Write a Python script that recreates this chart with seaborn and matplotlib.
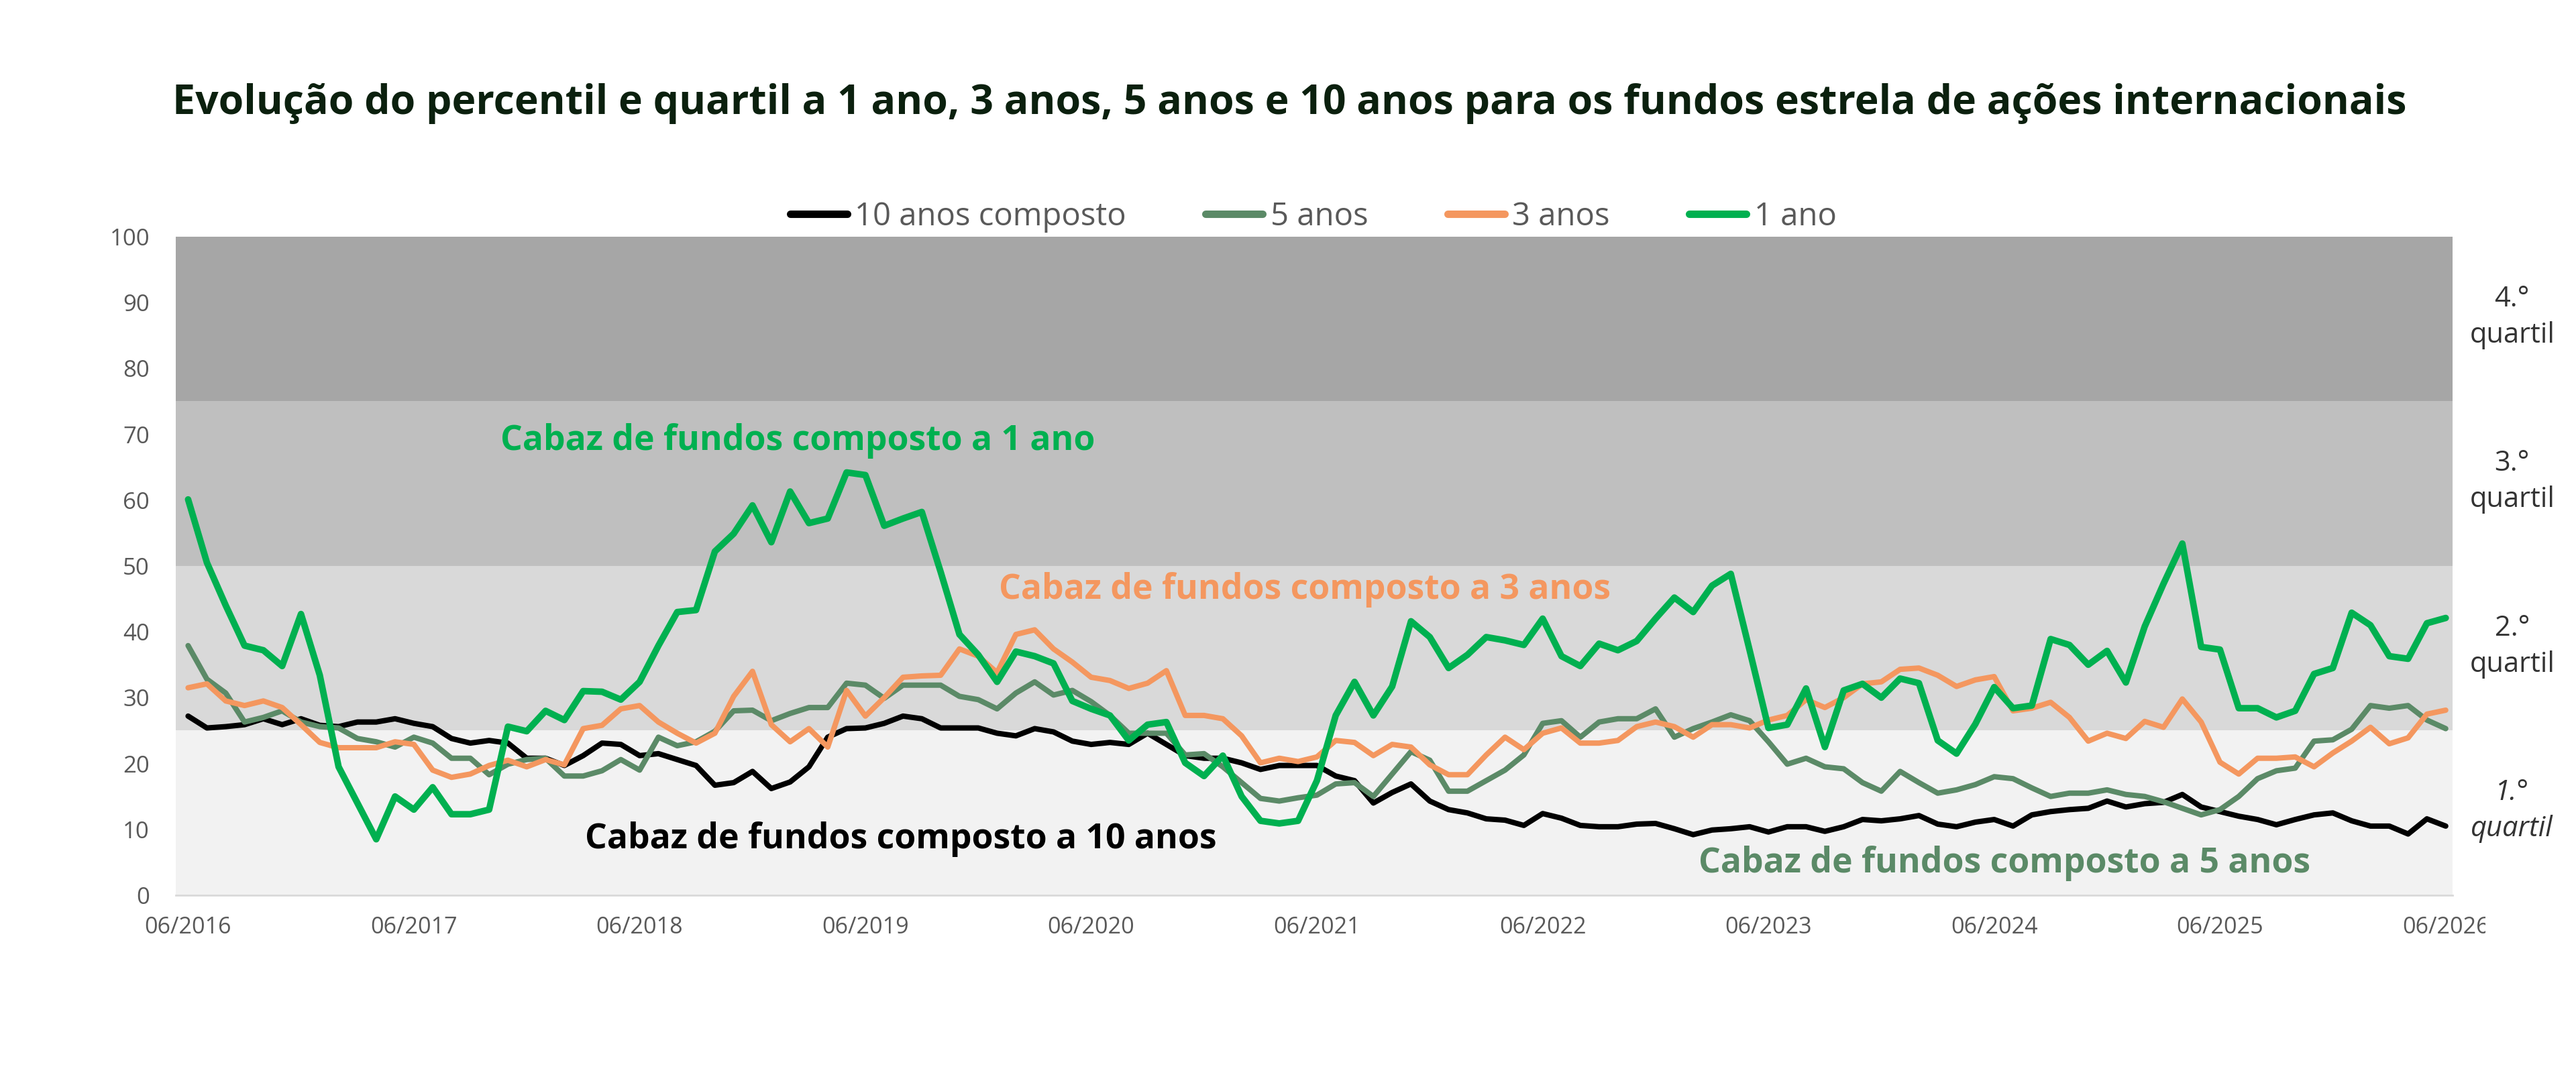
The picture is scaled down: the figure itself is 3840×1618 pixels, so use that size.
"""
Evolução do percentil e quartil dos fundos estrela de ações internacionais
"""

import pandas as pd
import matplotlib.pyplot as plt
import seaborn as sns
from matplotlib.lines import Line2D
from matplotlib.transforms import (Bbox, TransformedBbox, ScaledTranslation,
                                   blended_transform_factory)

sns.set_style("white")
plt.rcParams['font.family'] = ['Open Sans', 'DejaVu Sans']

# Dados (percentil mensal, 06/2016 -> 06/2026)
tick_labels = ['06/2016', '06/2017', '06/2018', '06/2019', '06/2020', '06/2021',
               '06/2022', '06/2023', '06/2024', '06/2025', '06/2026']

anos10 = [27.2, 25.4, 25.6, 25.9, 26.8, 25.9, 26.8, 25.8, 25.6, 26.3, 26.3, 26.8,
          26.1, 25.6, 23.8, 23.1, 23.5, 23.1, 20.8, 20.8, 19.7, 21.2, 23.1, 22.9,
          21.2, 21.5, 20.6, 19.7, 16.7, 17.1, 18.8, 16.2, 17.2, 19.5, 24.0, 25.3,
          25.4, 26.1, 27.2, 26.8, 25.4, 25.4, 25.4, 24.6, 24.2, 25.3, 24.8, 23.4,
          22.9, 23.2, 22.9, 24.6, 22.9, 21.2, 20.8, 20.8, 20.1, 19.1, 19.7, 19.7,
          19.7, 18.1, 17.4, 14.0, 15.6, 16.9, 14.3, 13.0, 12.5, 11.6, 11.4, 10.6,
          12.4, 11.7, 10.6, 10.4, 10.4, 10.8, 10.9, 10.1, 9.2, 9.9, 10.1, 10.4,
          9.6, 10.4, 10.4, 9.7, 10.4, 11.5, 11.3, 11.6, 12.1, 10.8, 10.4, 11.1,
          11.5, 10.5, 12.2, 12.7, 13.0, 13.2, 14.3, 13.4, 13.9, 14.1, 15.3, 13.4,
          12.7, 12.0, 11.5, 10.7, 11.5, 12.2, 12.5, 11.3, 10.5, 10.5, 9.3, 11.6,
          10.5]

anos5 = [37.9, 32.8, 30.7, 26.3, 27.0, 28.0, 26.3, 25.6, 25.4, 23.8, 23.3, 22.5,
         24.0, 23.1, 20.8, 20.8, 18.3, 19.9, 20.6, 20.8, 18.1, 18.1, 18.9, 20.6,
         19.0, 24.0, 22.7, 23.3, 24.9, 28.0, 28.1, 26.5, 27.6, 28.5, 28.5, 32.2,
         31.9, 29.9, 31.9, 31.9, 31.9, 30.2, 29.7, 28.3, 30.7, 32.4, 30.4, 31.1,
         29.4, 27.3, 24.6, 24.6, 24.6, 21.3, 21.5, 19.5, 17.1, 14.7, 14.3, 14.8,
         15.2, 16.9, 17.1, 15.0, 18.4, 21.8, 20.5, 15.8, 15.8, 17.4, 19.0, 21.3,
         26.1, 26.5, 24.0, 26.3, 26.8, 26.8, 28.3, 24.0, 25.3, 26.3, 27.4, 26.5,
         23.3, 19.9, 20.8, 19.5, 19.2, 17.1, 15.8, 18.8, 17.1, 15.5, 16.0, 16.8,
         18.0, 17.7, 16.3, 15.0, 15.5, 15.5, 16.0, 15.3, 15.0, 14.2, 13.2, 12.2,
         13.0, 15.0, 17.7, 18.9, 19.3, 23.4, 23.6, 25.2, 28.8, 28.4, 28.8, 26.6,
         25.3]

anos3 = [31.5, 32.1, 29.5, 28.8, 29.5, 28.5, 25.9, 23.2, 22.4, 22.4, 22.4, 23.3,
         22.9, 19.0, 17.9, 18.4, 19.7, 20.5, 19.5, 20.6, 19.8, 25.3, 25.8, 28.3,
         28.8, 26.3, 24.6, 23.1, 24.6, 30.2, 34.0, 25.9, 23.3, 25.3, 22.5, 31.1,
         27.2, 30.0, 33.1, 33.3, 33.4, 37.4, 36.3, 33.8, 39.6, 40.3, 37.4, 35.4,
         33.1, 32.6, 31.4, 32.2, 34.1, 27.3, 27.3, 26.8, 24.2, 20.1, 20.8, 20.3,
         21.0, 23.5, 23.2, 21.2, 22.9, 22.5, 19.8, 18.3, 18.3, 21.3, 24.0, 22.1,
         24.6, 25.4, 23.1, 23.1, 23.5, 25.6, 26.3, 25.6, 24.0, 25.9, 25.9, 25.4,
         26.6, 27.3, 29.7, 28.5, 30.0, 32.1, 32.4, 34.3, 34.5, 33.4, 31.7, 32.7,
         33.2, 28.0, 28.4, 29.3, 27.0, 23.4, 24.6, 23.8, 26.4, 25.5, 29.8, 26.3,
         20.2, 18.4, 20.8, 20.8, 21.0, 19.5, 21.6, 23.4, 25.5, 23.0, 23.9, 27.5,
         28.1]

ano1 = [60.1, 50.5, 44.0, 37.9, 37.2, 34.8, 42.7, 33.4, 19.5, 14.0, 8.5, 15.0,
        13.0, 16.4, 12.3, 12.3, 13.0, 25.6, 24.9, 28.0, 26.6, 31.0, 30.9, 29.7,
        32.4, 37.9, 43.0, 43.3, 52.2, 54.9, 59.2, 53.6, 61.3, 56.5, 57.2, 64.2,
        63.8, 56.1, 57.2, 58.2, 49.1, 39.6, 36.5, 32.4, 37.0, 36.3, 35.2, 29.5,
        28.3, 27.3, 23.5, 25.9, 26.3, 20.1, 18.1, 21.2, 15.0, 11.3, 10.9, 11.3,
        17.4, 27.3, 32.4, 27.3, 31.7, 41.6, 39.2, 34.5, 36.5, 39.2, 38.7, 38.0,
        42.0, 36.3, 34.8, 38.2, 37.2, 38.6, 42.0, 45.2, 43.0, 47.0, 48.8, 37.2,
        25.4, 25.9, 31.4, 22.5, 31.1, 32.1, 30.0, 32.9, 32.2, 23.5, 21.5, 26.0,
        31.6, 28.4, 28.8, 38.9, 38.0, 35.0, 37.1, 32.3, 40.8, 47.3, 53.4, 37.7,
        37.3, 28.4, 28.4, 27.0, 28.0, 33.6, 34.5, 42.9, 41.0, 36.3, 35.9, 41.3,
        42.1]

series_names = ['10 anos composto', '5 anos', '3 anos', '1 ano']
series_values = [anos10, anos5, anos3, ano1]
series_colors = ['#000000', '#5B8A67', '#F4975F', '#00B050']
series_widths = [2.9, 2.9, 2.9, 3.5]

quartile_edges = [0, 25, 50, 75, 100]
quartile_colors = ['#F2F2F2', '#D9D9D9', '#BFBFBF', '#A6A6A6']
quartile_labels = ['1.°\nquartil', '2.°\nquartil', '3.°\nquartil', '4.°\nquartil']

annotations = [
    ('Cabaz de fundos composto a 1 ano', 16.6, 69.0, '#00B050'),
    ('Cabaz de fundos composto a 3 anos', 43.1, 46.4, '#F4975F'),
    ('Cabaz de fundos composto a 10 anos', 21.1, 8.5, '#000000'),
    ('Cabaz de fundos composto a 5 anos', 80.3, 4.8, '#5B8A67'),
]

# Long table for seaborn
frames = []
for name, vals in zip(series_names, series_values):
    frames.append(pd.DataFrame({'mes': range(len(vals)), 'percentil': vals, 'serie': name}))
df = pd.concat(frames, ignore_index=True)

fig = plt.figure(figsize=(19.2, 8.09), dpi=200)
ax = fig.add_axes([0.0682, 0.1749, 0.884, 0.607])

# Quartile bands
for lo, hi, c in zip(quartile_edges[:-1], quartile_edges[1:], quartile_colors):
    ax.axhspan(lo, hi, color=c, lw=0, zorder=0)

for name, color, lw in zip(series_names, series_colors, series_widths):
    sns.lineplot(data=df[df['serie'] == name], x='mes', y='percentil', ax=ax,
                 color=color, linewidth=lw, legend=False, zorder=3,
                 solid_joinstyle='round', solid_capstyle='round')

ax.set_xlim(-0.66, 120.38)
ax.set_ylim(0, 100)
ax.set_xlabel('')
ax.set_ylabel('')

ax.set_xticks([-0.5 + 12 * k for k in range(len(tick_labels))])
ax.set_xticklabels(tick_labels)
ax.set_yticks(range(0, 101, 10))
ax.tick_params(axis='x', direction='out', length=4.3, width=0.9, color='#D9D9D9',
               labelsize=12.3, labelcolor='#595959', pad=7)
ax.tick_params(axis='y', length=0, labelsize=12.5, labelcolor='#595959', pad=14)

for s in ['top', 'right', 'left']:
    ax.spines[s].set_visible(False)
ax.spines['bottom'].set_color('#D9D9D9')
ax.spines['bottom'].set_linewidth(1.0)
ax.spines['bottom'].set_zorder(1)

# date labels sit a little right of their ticks; the last one is cut in the original
shift = ScaledTranslation(14 / 200, 0, fig.dpi_scale_trans)
for tick in ax.xaxis.get_major_ticks():
    tick.label1.set_transform(tick.label1.get_transform() + shift)
last = ax.xaxis.get_major_ticks()[-1].label1
last.set_clip_on(True)
last.set_clip_box(TransformedBbox(Bbox([[0, 0], [3705 / 3840, 1]]), fig.transFigure))

# Series annotations
for txt, x, y, c in annotations:
    ax.text(x, y, txt, color=c, fontsize=18.6, fontweight='bold', ha='left', va='center', zorder=4)

# Quartile labels on the right
trans = blended_transform_factory(ax.transAxes, ax.transData)
for lo, hi, lab in zip(quartile_edges[:-1], quartile_edges[1:], quartile_labels):
    style = 'italic' if lab.startswith('1.') else 'normal'
    ax.text(1.026, (lo + hi) / 2 + 0.3, lab, transform=trans, ha='center', va='center',
            fontsize=15, color='#333333', style=style, linespacing=1.38, clip_on=False)

# Title
fig.text(0.5005, 0.895, 'Evolução do percentil e quartil a 1 ano, 3 anos, 5 anos e 10 anos '
         'para os fundos estrela de ações internacionais',
         ha='center', va='baseline', fontsize=21.9, fontweight='bold', color='#0B200E')

# Legend
handles = [Line2D([0], [0], color=c, lw=4, solid_capstyle='round') for c in series_colors]
fig.legend(handles, series_names, loc='center', bbox_to_anchor=(0.5098, 0.8004), ncol=4,
           frameon=False, fontsize=17, labelcolor='#595959', handlelength=1.8,
           handletextpad=0.25, columnspacing=2.5)

plt.savefig('out.png', dpi=200)
plt.close()
